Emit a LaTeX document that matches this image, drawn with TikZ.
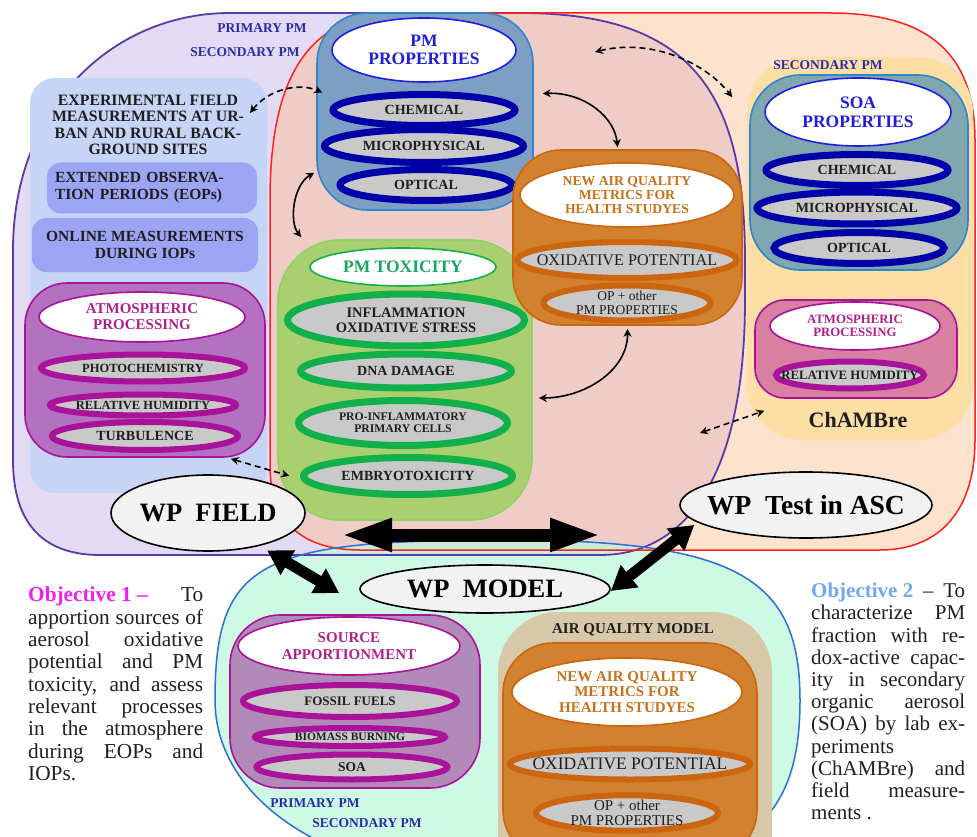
\documentclass[tikz,border=0pt]{standalone}
\usepackage{fontspec}
\setmainfont{Liberation Serif}
\usetikzlibrary{shapes.geometric,arrows.meta,calc}
\definecolor{purpfill}{HTML}{E3DAF3}
\definecolor{purpline}{HTML}{5B3AA8}
\definecolor{redfill}{HTML}{FDE2CD}
\definecolor{ovlfill}{HTML}{EFCCC5}
\definecolor{redline}{HTML}{FF2020}
\definecolor{mintfill}{HTML}{BEF8DB}
\definecolor{blueline}{HTML}{2E6ED8}
\definecolor{ltblue}{HTML}{C6D4F6}
\definecolor{midblue}{HTML}{9CA4F4}
\definecolor{yelfill}{HTML}{FDDFA5}
\definecolor{itemgray}{HTML}{C9C9C9}
\definecolor{txtdark}{HTML}{1E1E1E}
\definecolor{wpfill}{HTML}{F2F2F2}
\definecolor{pmblue}{HTML}{2B2BA8}
\definecolor{titleblue}{HTML}{1E1EDC}
\definecolor{navyline}{HTML}{0000A8}
\definecolor{pmpfill}{HTML}{7E9FC4}
\definecolor{pmpline}{HTML}{2D87C9}
\definecolor{soafill}{HTML}{80A6B0}
\definecolor{magline}{HTML}{A8139A}
\definecolor{magtext}{HTML}{B0208C}
\definecolor{atmLfill}{HTML}{B470C1}
\definecolor{atmRfill}{HTML}{D87FA2}
\definecolor{srcfill}{HTML}{B28AB9}
\definecolor{orfill}{HTML}{D2812F}
\definecolor{orline}{HTML}{CC6510}
\definecolor{ortext}{HTML}{C8701A}
\definecolor{greenfill}{HTML}{AACF70}
\definecolor{greenout}{HTML}{8ED463}
\definecolor{greenline}{HTML}{12B04B}
\definecolor{greentext}{HTML}{1AA860}
\definecolor{tanfill}{HTML}{D8C8AA}
\definecolor{objonec}{HTML}{F020F0}
\definecolor{objtwoc}{HTML}{6FA8F0}
\definecolor{objtext}{HTML}{202020}
\newcommand\setfs[2]{\fontsize{#1}{#2}\selectfont}
\newcommand\zw[1]{\makebox[0pt]{#1}}
\def\PurpleShape{(13,250) .. controls (13,110) and (110,13) .. (230,13) -- (520,13) .. controls (690,13) and (745,90) .. (745,260) -- (745,300) .. controls (745,470) and (690,555) .. (600,555) -- (100,555) .. controls (40,555) and (13,520) .. (13,460) -- cycle}
\def\RedShape{(270,200) .. controls (270,90) and (300,13) .. (400,13) -- (830,13) .. controls (930,13) and (975,55) .. (975,140) -- (975,440) .. controls (975,510) and (940,550) .. (880,550) -- (360,550) .. controls (300,550) and (270,520) .. (270,465) -- cycle}
\def\MintShape{(507,540) .. controls (740,540) and (800,580) .. (800,700) .. controls (800,830) and (740,880) .. (507,880) .. controls (330,880) and (215,800) .. (215,700) .. controls (215,560) and (260,540) .. (507,540) -- cycle}
\begin{document}
\begin{tikzpicture}[x=1pt,y=-1pt,
  grp/.style={rectangle, inner sep=0pt, line width=1.6pt},
  itm/.style={ellipse, inner sep=0pt, fill=itemgray, line width=6pt, align=center, text=txtdark, font=\bfseries\setfs{14}{15}},
  ttl/.style={ellipse, inner sep=0pt, fill=white, line width=1.6pt, align=center},
  wpn/.style={ellipse, inner sep=0pt, fill=wpfill, draw=black, line width=1.6pt, font=\bfseries\setfs{26.5}{28}},
  lbl/.style={inner sep=0pt, align=center},
  dsharr/.style={line width=1.6pt, dash pattern=on 6pt off 4pt, {Stealth[length=8pt,width=8pt]}-{Stealth[length=8pt,width=8pt]}},
  sldarr/.style={line width=1.6pt, {Stealth[length=8pt,width=8pt]}-{Stealth[length=8pt,width=8pt]}},
  bigarr/.style={draw=black}
]
\useasboundingbox (0,0) rectangle (977,837);
\fill[white] (0,0) rectangle (977,837);
% regions
\fill[purpfill] \PurpleShape;
\fill[redfill] \RedShape;
\begin{scope}
\clip \PurpleShape;
\fill[ovlfill] \RedShape;
\end{scope}
\fill[mintfill, fill opacity=0.75] \MintShape;
\draw[purpline, line width=1.8pt] \PurpleShape;
\draw[redline, line width=1.5pt] \RedShape;
\draw[blueline, line width=1.5pt] \MintShape;

% left field area
\node[grp, fill=ltblue, rounded corners=25pt, minimum width=237pt, minimum height=415pt] (expbox) at (148.5,285.5) {};
\node[lbl, text=txtdark, font=\bfseries\setfs{15.8}{16.5}] (expTxt) at (148,125) {EXPERIMENTAL FIELD\\MEASUREMENTS AT UR-\\BAN AND RURAL BACK-\\GROUND SITES};
\node[grp, fill=midblue, rounded corners=14pt, minimum width=210pt, minimum height=51pt, text width=194pt, align=left, text=txtdark, font=\bfseries\setfs{15.5}{17}] (eop) at (152,188) {EXTENDED OBSERVA-\\TION PERIODS (EOPs)};
\node[grp, fill=midblue, rounded corners=14pt, minimum width=226pt, minimum height=54pt, align=center, text=txtdark, font=\bfseries\setfs{15.5}{17}] (onl) at (145,245) {ONLINE MEASUREMENTS\\DURING IOPs};

% atmospheric processing left
\node[grp, fill=atmLfill, draw=magline, rounded corners=42pt, minimum width=240pt, minimum height=174pt] (atmL) at (145,370) {};
\node[ttl, draw=magline, text=magtext, minimum width=206pt, minimum height=50pt, font=\bfseries\setfs{15}{16}] (atmLt) at (142,317) {\zw{ATMOSPHERIC}\\\zw{PROCESSING}};
\node[itm, draw=magline, minimum width=204pt, minimum height=27pt, font=\bfseries\setfs{12.5}{13}] (photo) at (143,368) {\zw{PHOTOCHEMISTRY}};
\node[itm, draw=magline, minimum width=186pt, minimum height=21pt, font=\bfseries\setfs{12.5}{13}] (rhL) at (143,405) {\zw{RELATIVE HUMIDITY}};
\node[itm, draw=magline, minimum width=186pt, minimum height=28pt] (turb) at (145,436) {\zw{TURBULENCE}};

% PM properties
\node[grp, fill=pmpfill, draw=pmpline, rounded corners=50pt, minimum width=216pt, minimum height=197pt] (pmp) at (425,111.5) {};
\node[ttl, draw=titleblue, text=titleblue, minimum width=184pt, minimum height=64pt, font=\bfseries\setfs{17.5}{18}] (pmpt) at (424,50) {\zw{PM}\\\zw{PROPERTIES}};
\node[itm, draw=navyline, line width=7pt, minimum width=182pt, minimum height=31pt] (pmc) at (424,110) {\zw{CHEMICAL}};
\node[itm, draw=navyline, line width=7pt, minimum width=199pt, minimum height=33pt] (pmm) at (424,146) {\zw{MICROPHYSICAL}};
\node[itm, draw=navyline, line width=7pt, minimum width=172pt, minimum height=31pt] (pmo) at (426,185) {\zw{OPTICAL}};

% PM toxicity
\node[grp, fill=greenfill, draw=greenout, rounded corners=62pt, minimum width=254pt, minimum height=280pt] (tox) at (405,380) {};
\node[ttl, draw=greenline, text=greentext, minimum width=186pt, minimum height=38pt, font=\bfseries\setfs{17.5}{18}] (toxt) at (403,267) {\zw{PM TOXICITY}};
\node[itm, draw=greenline, line width=7pt, minimum width=237pt, minimum height=52pt, font=\bfseries\setfs{14.5}{15}] (infl) at (406,320) {\zw{INFLAMMATION}\\\zw{OXIDATIVE STRESS}};
\node[itm, draw=greenline, line width=7pt, minimum width=211pt, minimum height=34pt, font=\bfseries\setfs{14}{15}] (dna) at (406,371) {\zw{DNA DAMAGE}};
\node[itm, draw=greenline, line width=7pt, minimum width=209pt, minimum height=45pt, font=\bfseries\setfs{11.7}{12}] (pro) at (403,423) {\zw{PRO-INFLAMMATORY}\\\zw{PRIMARY CELLS}};
\node[itm, draw=greenline, line width=7pt, minimum width=209pt, minimum height=37pt, font=\bfseries\setfs{14}{15}] (emb) at (408,476) {\zw{EMBRYOTOXICITY}};

% new air quality metrics (top)
\node[grp, fill=orfill, draw=orline, rounded corners=48pt, minimum width=229pt, minimum height=175pt] (naq) at (627.5,237.5) {};
\node[ttl, draw=orline, text=ortext, minimum width=214pt, minimum height=64pt, font=\bfseries\setfs{13.7}{14}] (naqt) at (627,195) {\zw{NEW AIR QUALITY}\\\zw{METRICS FOR}\\\zw{HEALTH STUDYES}};
\node[itm, draw=orline, minimum width=219pt, minimum height=36pt, font=\setfs{16.2}{17}] (op1) at (627,260) {\zw{OXIDATIVE POTENTIAL}};
\node[itm, draw=orline, minimum width=167pt, minimum height=35pt, font=\setfs{13.5}{14.5}] (opo1) at (627,303) {\zw{OP + other}\\\zw{PM PROPERTIES}};

% SOA / ChAMBre
\node[grp, fill=yelfill, rounded corners=55pt, minimum width=226pt, minimum height=383pt] (cham) at (860,248.5) {};
\node[lbl, text=pmblue, font=\bfseries\setfs{13.5}{14}] (secR) at (828,65) {SECONDARY PM};
\node[grp, fill=soafill, draw=pmpline, rounded corners=50pt, minimum width=218pt, minimum height=195pt] (soa) at (859,172.5) {};
\node[ttl, draw=titleblue, text=titleblue, minimum width=186pt, minimum height=68pt, font=\bfseries\setfs{17.5}{19}] (soat) at (858,112) {\zw{SOA}\\\zw{PROPERTIES}};
\node[itm, draw=navyline, line width=7pt, minimum width=182pt, minimum height=31pt] (soac) at (857,170) {\zw{CHEMICAL}};
\node[itm, draw=navyline, line width=7pt, minimum width=200pt, minimum height=32pt] (soam) at (857,208) {\zw{MICROPHYSICAL}};
\node[itm, draw=navyline, line width=7pt, minimum width=170pt, minimum height=31pt] (soao) at (859,248) {\zw{OPTICAL}};
\node[grp, fill=atmRfill, draw=magline, rounded corners=30pt, minimum width=202pt, minimum height=98pt] (atmR) at (856,349) {};
\node[ttl, draw=magline, text=magtext, minimum width=170pt, minimum height=48pt, font=\bfseries\setfs{12.8}{13}] (atmRt) at (855,326) {\zw{ATMOSPHERIC}\\\zw{PROCESSING}};
\node[itm, draw=magline, minimum width=148pt, minimum height=27pt, font=\bfseries\setfs{12.8}{13}] (rhR) at (850,375) {\zw{RELATIVE HUMIDITY}};
\node[lbl, text=txtdark, font=\bfseries\setfs{22}{24}] (chamL) at (858,420) {ChAMBre};

% model area
\node[grp, fill=srcfill, draw=magline, rounded corners=50pt, minimum width=250pt, minimum height=173pt] (src) at (355,701.5) {};
\node[ttl, draw=magline, text=magtext, minimum width=222pt, minimum height=58pt, font=\bfseries\setfs{15}{17}] (srct) at (349,646) {\zw{SOURCE}\\\zw{APPORTIONMENT}};
\node[itm, draw=magline, minimum width=214pt, minimum height=32pt, font=\bfseries\setfs{13}{14}] (fos) at (350,701) {\zw{FOSSIL FUELS}};
\node[itm, draw=magline, minimum width=190pt, minimum height=18pt, font=\bfseries\setfs{11.5}{12}] (bio) at (350,737) {\zw{BIOMASS BURNING}};
\node[itm, draw=magline, minimum width=191pt, minimum height=25pt, font=\bfseries\setfs{13.5}{14}] (soaI) at (352,767) {\zw{SOA}};

\node[grp, fill=tanfill, rounded corners=60pt, minimum width=274pt, minimum height=288pt] (aqm) at (635,756) {};
\node[lbl, text=txtdark, font=\bfseries\setfs{15}{16}] (aqmL) at (633,630) {AIR QUALITY MODEL};
\node[grp, fill=orfill, draw=orline, rounded corners=50pt, minimum width=254pt, minimum height=217pt] (naqB) at (630,751.5) {};
\node[ttl, draw=orline, text=ortext, minimum width=230pt, minimum height=68pt, font=\bfseries\setfs{15}{15.5}] (naqBt) at (627,692) {\zw{NEW AIR QUALITY}\\\zw{METRICS FOR}\\\zw{HEALTH STUDYES}};
\node[itm, draw=orline, minimum width=240pt, minimum height=31pt, font=\setfs{17.5}{18}] (op2) at (630,764) {\zw{OXIDATIVE POTENTIAL}};
\node[itm, draw=orline, minimum width=182pt, minimum height=35pt, font=\setfs{15}{14.5}] (opo2) at (627,813) {\zw{OP + other}\\\zw{PM PROPERTIES}};

% PM labels
\node[lbl, text=pmblue, font=\bfseries\setfs{13.5}{14}] (priT) at (262,28) {PRIMARY PM};
\node[lbl, text=pmblue, font=\bfseries\setfs{13.5}{14}] (secT) at (245,52) {SECONDARY PM};
\node[lbl, text=pmblue, font=\bfseries\setfs{13.5}{14}] (priB) at (315,803) {PRIMARY PM};
\node[lbl, text=pmblue, font=\bfseries\setfs{13.5}{14}] (secB) at (367,823) {SECONDARY PM};

% WP ellipses
\node[wpn, minimum width=194pt, minimum height=76pt] (wpf) at (208,513) {\zw{WP\ \ FIELD}};
\node[wpn, minimum width=252pt, minimum height=66pt, font=\bfseries\setfs{27.5}{28}] (wpt) at (806,505) {\zw{WP\ \ Test in ASC}};
\node[wpn, minimum width=250pt, minimum height=48pt] (wpm) at (485,589) {\zw{WP\ \ MODEL}};

% connectors
\coordinate (a1s) at (250,113);
\draw[dsharr] (a1s) .. controls (268,90) and (298,82) .. ($(pmp.west)+(6,-19)$);
\draw[sldarr] ($(pmp.south west)+(-2,-38)$) .. controls (293,185) and (289,222) .. ($(tox.north west)+(24,-2)$);
\draw[sldarr] ($(pmp.east)+(9,-18)$) .. controls (585,92) and (615,118) .. ($(naq.north)+(-10,-2)$);
\coordinate (a4s) at (595,52);
\draw[dsharr] (a4s) .. controls (650,38) and (705,62) .. ($(soa.north west)+(-17,23)$);
\draw[sldarr] ($(naq.south)+(0,3)$) .. controls (628,370) and (585,398) .. ($(tox.east)+(6,18)$);
\draw[dsharr] ($(atmL.south east)+(-35,1)$) -- ($(tox.south west)+(12,-45)$);
\coordinate (a7s) at (700,433);
\draw[dsharr] (a7s) -- ($(atmR.south west)+(10,12)$);

\coordinate (b1l) at (340,535);
\coordinate (b1r) at (602,535);
\draw[bigarr, line width=13pt, {Triangle[length=52pt,width=30pt]}-{Triangle[length=52pt,width=30pt]}] (b1l) -- (b1r);
\draw[bigarr, line width=11pt, {Triangle[length=24pt,width=27pt]}-{Triangle[length=24pt,width=27pt]}] ($(wpf.south east)+(-10,10)$) -- ($(wpm.west)+(-20,4)$);
\draw[bigarr, line width=11pt, {Triangle[length=24pt,width=27pt]}-{Triangle[length=24pt,width=27pt]}] ($(wpt.south west)+(-22,-4)$) -- ($(wpm.east)+(0,2)$);

% objectives
\node[anchor=north west, inner sep=0pt, align=left, text=objtext, font=\setfs{21.3}{22.3}] (obj1) at (28,587) {%
\makebox[175pt][s]{\mbox{\textcolor{objonec}{\bfseries Objective 1 \textendash}} To}\\
\makebox[175pt][s]{apportion sources of}\\
\makebox[175pt][s]{aerosol oxidative}\\
\makebox[175pt][s]{potential and PM}\\
\makebox[175pt][s]{toxicity, and assess}\\
\makebox[175pt][s]{relevant processes}\\
\makebox[175pt][s]{in the atmosphere}\\
\makebox[175pt][s]{during EOPs and}\\
IOPs.};
\node[anchor=north west, inner sep=0pt, align=left, text=objtext, font=\setfs{21}{22.2}] (obj2) at (811,583) {%
\makebox[154pt][s]{\mbox{\textcolor{objtwoc}{\bfseries Objective 2}} \textendash{} To}\\
\makebox[154pt][s]{characterize PM}\\
\makebox[154pt][s]{fraction with re-}\\
\makebox[154pt][s]{dox-active capac-}\\
\makebox[154pt][s]{ity in secondary}\\
\makebox[154pt][s]{organic aerosol}\\
\makebox[154pt][s]{(SOA) by lab ex-}\\
periments\\
\makebox[154pt][s]{(ChAMBre) and}\\
\makebox[154pt][s]{field measure-}\\
ments .};
\end{tikzpicture}
\end{document}
